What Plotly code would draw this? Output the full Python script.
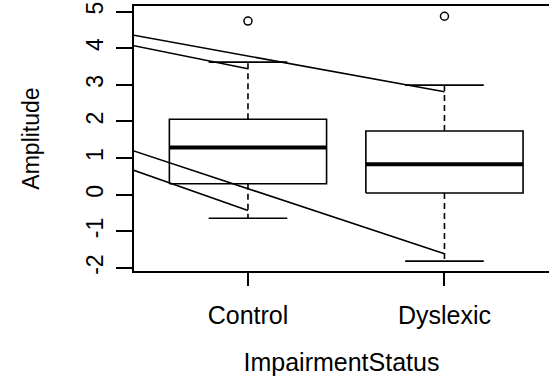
import plotly.graph_objects as go

# ---- data ----
categories = ["Control", "Dyslexic"]
q1 = [0.30, 0.05]
medians = [1.29, 0.83]
q3 = [2.06, 1.74]
lower_whisker = [-0.64, -1.81]
upper_whisker = [3.62, 2.99]
outliers = [[4.74], [4.87]]

# four overlaid straight lines (start x, end x, start value, end value)
line_x0 = [0, 0, 0, 0]
line_x1 = [2, 1, 2, 1]
line_y0 = [4.76, 4.52, 1.94, 1.46]
line_y1 = [2.81, 3.44, -1.61, -0.43]

y_ticks = [-2, -1, 0, 1, 2, 3, 4, 5]

# ---- styling ----
BOXW = 0.8
STAPLE = 0.4
LW = 1.6
FONT = "Liberation Sans, Arial, Helvetica, sans-serif"

fig = go.Figure()

for i, cat in enumerate(categories):
    xc = i + 1
    xl, xr = xc - BOXW / 2, xc + BOXW / 2
    # box
    fig.add_trace(go.Scatter(x=[xl, xr, xr, xl, xl], y=[q1[i], q1[i], q3[i], q3[i], q1[i]],
                             mode="lines", line=dict(color="black", width=LW), hoverinfo="skip"))
    # median
    fig.add_trace(go.Scatter(x=[xl, xr], y=[medians[i], medians[i]], mode="lines",
                             line=dict(color="black", width=4), hoverinfo="skip"))
    # whiskers (dashed)
    fig.add_trace(go.Scatter(x=[xc, xc], y=[q3[i], upper_whisker[i]], mode="lines",
                             line=dict(color="black", width=LW, dash="6px,4px"), hoverinfo="skip"))
    fig.add_trace(go.Scatter(x=[xc, xc], y=[q1[i], lower_whisker[i]], mode="lines",
                             line=dict(color="black", width=LW, dash="6px,4px"), hoverinfo="skip"))
    # staples
    for v in (upper_whisker[i], lower_whisker[i]):
        fig.add_trace(go.Scatter(x=[xc - STAPLE / 2, xc + STAPLE / 2], y=[v, v], mode="lines",
                                 line=dict(color="black", width=LW), hoverinfo="skip"))
    # outliers
    fig.add_trace(go.Scatter(x=[xc] * len(outliers[i]), y=outliers[i], mode="markers",
                             marker=dict(symbol="circle-open", size=8, color="black",
                                         line=dict(width=1.5, color="black")),
                             hoverinfo="skip", cliponaxis=False))

for a, b, c, d in zip(line_x0, line_x1, line_y0, line_y1):
    fig.add_trace(go.Scatter(x=[a, b], y=[c, d], mode="lines",
                             line=dict(color="black", width=LW), hoverinfo="skip"))

fig.update_layout(
    width=549, height=382,
    margin=dict(l=134, r=0, t=5.5, b=111.3, pad=0),
    paper_bgcolor="white", plot_bgcolor="white",
    showlegend=False,
    font=dict(family=FONT, size=23, color="black"),
)
fig.update_xaxes(
    range=[0.42, 2.532], showgrid=False, zeroline=False,
    showline=True, mirror=True, linecolor="black", linewidth=LW,
    ticks="outside", ticklen=13, tickwidth=LW, tickcolor="black",
    tickvals=[1, 2], ticktext=categories,
    tickfont=dict(size=25), ticklabelstandoff=8,
    title=dict(text="ImpairmentStatus", font=dict(size=25), standoff=26),
    automargin=False,
)
fig.update_yaxes(
    range=[-2.08, 5.15], showgrid=False, zeroline=False,
    showline=True, mirror=False, linecolor="black", linewidth=LW,
    ticks="outside", ticklen=16, tickwidth=LW, tickcolor="black",
    tickvals=y_ticks, ticktext=[str(v) for v in y_ticks], tickangle=-90,
    tickfont=dict(size=23), ticklabelstandoff=4,
    title=dict(text="Amplitude", font=dict(size=23), standoff=36),
    automargin=False,
)

fig.write_html("out.html")
